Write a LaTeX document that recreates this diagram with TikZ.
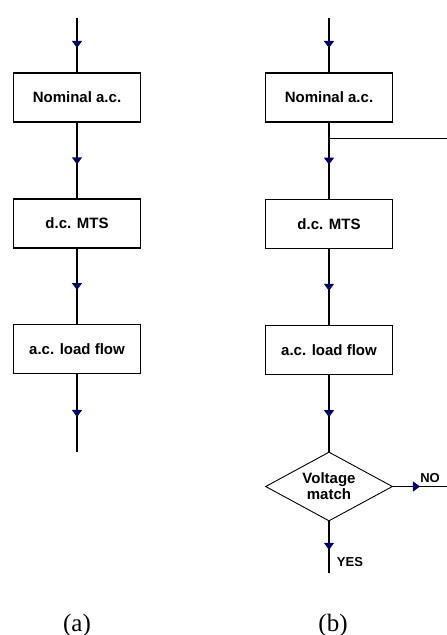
\documentclass[tikz,border=0pt]{standalone}
\usepackage{fontspec}
\setmainfont{Liberation Serif}
\newfontfamily\arialb{Liberation Sans}
\usetikzlibrary{shapes.geometric,decorations.markings,arrows.meta}
\definecolor{arrnavy}{RGB}{0,0,110}
\tikzset{
  blk/.style={draw, line width=1.1pt, minimum width=127pt, minimum height=49pt, inner sep=0pt,
    font=\arialb\bfseries\fontsize{15}{17}\selectfont},
  dia/.style={draw, diamond, line width=0.9pt, minimum width=127pt, minimum height=69pt,
    aspect=1.84, inner sep=0pt, align=center, font=\arialb\bfseries\fontsize{15}{16}\selectfont},
  flow/.style={line width=1.5pt, postaction={decorate},
    decoration={markings, mark=at position #1 with {\arrow{Triangle[width=10pt,length=7pt,color=arrnavy]}}}},
  flow/.default=0.55,
  thinline/.style={line width=1pt},
  lbl/.style={font=\arialb\bfseries\fontsize{13}{15}\selectfont},
  captxt/.style={font=\fontsize{25}{28}\selectfont, anchor=base},
}
\begin{document}
\begin{tikzpicture}[x=1pt,y=-1pt]
\useasboundingbox (0,0) rectangle (447,635);
% (a)
\coordinate (at0) at (77,18);
\node[blk] (a1) at (77,97.5) {Nominal a.c.};
\node[blk] (a2) at (77,223.5) {d.c. MTS};
\node[blk] (a3) at (77,349) {a.c. load flow};
\coordinate (aend) at (77,452);
\draw[flow] (at0) -- (a1.north);
\draw[flow] (a1.south) -- (a2.north);
\draw[flow] (a2.south) -- (a3.north);
\draw[flow] (a3.south) -- (aend);
% (b)
\coordinate (bt0) at (329,18);
\node[blk] (b1) at (329,97.5) {Nominal a.c.};
\node[blk] (b2) at (329,224) {d.c. MTS};
\node[blk] (b3) at (329,350) {a.c. load flow};
\node[dia] (d) at (329,486.5) {Voltage\\match};
\coordinate (br) at (329,138);
\coordinate (brend) at (447,138);
\coordinate (noend) at (447,486.5);
\coordinate (yesend) at (329,573);
\draw[flow] (bt0) -- (b1.north);
\draw[flow] (b1.south) -- (b2.north);
\draw[thinline] (br) -- (brend);
\draw[flow] (b2.south) -- (b3.north);
\draw[flow] (b3.south) -- (d.north);
\draw[flow=0.5, line width=1pt] (d.east) -- (noend);
\draw[flow, line width=1.2pt] (d.south) -- (yesend);
\node[lbl] (no) at (430,478) {NO};
\node[lbl] (yes) at (350,562) {YES};
% captions
\node[captxt] (ca) at (77,631) {(a)};
\node[captxt] (cb) at (333,631) {(b)};
\end{tikzpicture}
\end{document}
